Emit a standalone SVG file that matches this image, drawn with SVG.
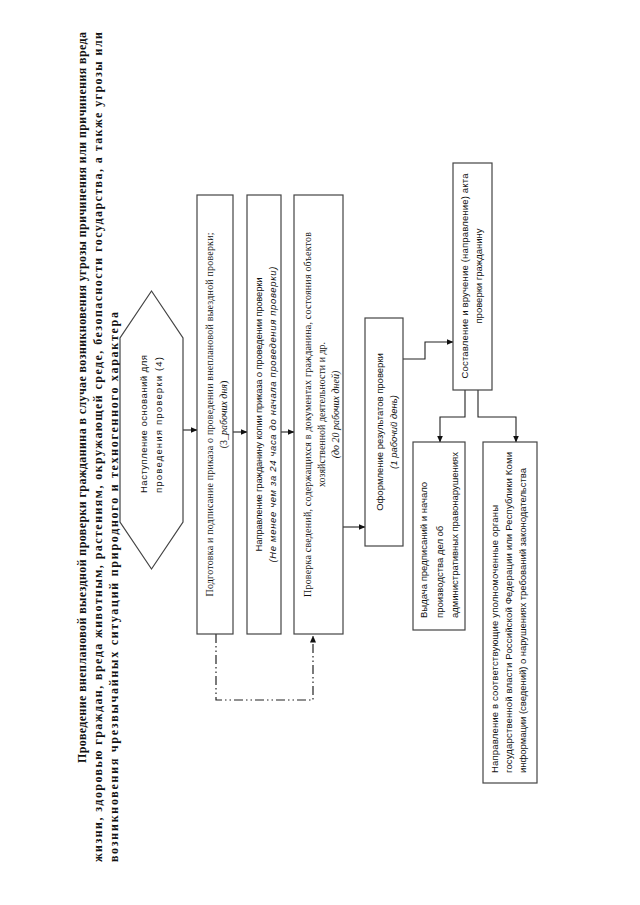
<svg xmlns="http://www.w3.org/2000/svg" width="640" height="905" viewBox="0 0 640 905">
<defs>
<style>
.box{fill:#fff;stroke:#444;stroke-width:1.2}
.ln{fill:none;stroke:#222;stroke-width:1.1}
.dd{fill:none;stroke:#222;stroke-width:1.2;stroke-dasharray:9,3,1.5,3,1.5,3}
.ti{font-family:"Liberation Serif",serif;font-weight:bold;font-size:12px;fill:#111}
.sr{font-family:"Liberation Serif",serif;font-size:10px;fill:#111}
.ss{font-family:"Liberation Sans",Arial,sans-serif;font-size:9.5px;fill:#111}
.it{font-style:italic}
</style>
<marker id="ah" markerWidth="7" markerHeight="6" refX="6.5" refY="3" orient="auto" markerUnits="userSpaceOnUse">
<path d="M0,0 L7,3 L0,6 Z" fill="#111"/>
</marker>
</defs>
<rect width="640" height="905" fill="#fff"/>
<g id="title">
<text class="ti" transform="translate(86,763) rotate(-90)" textLength="731" lengthAdjust="spacing">Проведение внеплановой выездной проверки гражданина в случае возникновения угрозы причинения или причинения вреда</text>
<text class="ti" transform="translate(102,862) rotate(-90)" textLength="830" lengthAdjust="spacing">жизни, здоровью граждан, вреда животным, растениям, окружающей среде, безопасности государства, а также угрозы или</text>
<text class="ti" transform="translate(118,862) rotate(-90)" textLength="550" lengthAdjust="spacing">возникновения чрезвычайных ситуаций природного и техногенного характера</text>
</g>
<g id="connectors">
<path class="ln" d="M183,430 H197" marker-end="url(#ah)"/>
<path class="ln" d="M233,432 H247" marker-end="url(#ah)"/>
<path class="ln" d="M281,432 H294" marker-end="url(#ah)"/>
<path class="ln" d="M343,527 H365" marker-end="url(#ah)"/>
<path class="ln" d="M403,359 H425 V342 H453" marker-end="url(#ah)"/>
<path class="ln" d="M465,390 V417 H440 V442" marker-end="url(#ah)"/>
<path class="ln" d="M478,390 V417 H516 V442" marker-end="url(#ah)"/>
<path class="dd" d="M216,634 V700 H313 V636" marker-end="url(#ah)"/>
</g>
<g id="n0">
<polygon class="box" points="151.5,291 183,338 183,522 151.5,569 120,522 120,338"/>
<text class="ss" font-size="10" transform="translate(147,493) rotate(-90)" textLength="138" lengthAdjust="spacing">Наступление оснований для</text>
<text class="ss" font-size="10" transform="translate(162,493) rotate(-90)" textLength="136" lengthAdjust="spacing">проведения  проверки (4)</text>
</g>
<g id="n1">
<rect class="box" x="197" y="195" width="36" height="439"/>
<text class="sr" text-anchor="middle" transform="translate(213,414.5) rotate(-90)" textLength="364" lengthAdjust="spacing">Подготовка и подписание приказа о проведении внеплановой выездной проверки;</text>
<text class="sr" text-anchor="middle" transform="translate(227,414.5) rotate(-90)">(3_<tspan class="it">рабочих дня</tspan>)</text>
</g>
<g id="n2">
<rect class="box" x="247" y="195" width="34" height="439"/>
<text class="ss" text-anchor="middle" transform="translate(262,414.5) rotate(-90)" textLength="274" lengthAdjust="spacing">Направление гражданину копии приказа о проведении проверки</text>
<text class="ss it" text-anchor="middle" transform="translate(276,414.5) rotate(-90)" textLength="296" lengthAdjust="spacing">(Не менее чем за 24 часа до начала проведения проверки)</text>
</g>
<g id="n3">
<rect class="box" x="294" y="195" width="49" height="439"/>
<text class="sr" text-anchor="middle" transform="translate(311,414.5) rotate(-90)" textLength="365" lengthAdjust="spacing">Проверка сведений, содержащихся в документах гражданина, состояния объектов</text>
<text class="sr" text-anchor="middle" transform="translate(325,414.5) rotate(-90)">хозяйственной деятельности и др.</text>
<text class="sr it" text-anchor="middle" transform="translate(339,414.5) rotate(-90)">(до 20 рабочих дней)</text>
</g>
<g id="n4">
<rect class="box" x="365" y="318" width="38" height="228"/>
<text class="ss" font-size="10" text-anchor="middle" transform="translate(383,432) rotate(-90)">Оформление результатов проверки</text>
<text class="ss it" font-size="10" text-anchor="middle" transform="translate(397,432) rotate(-90)">(1 рабочий день)</text>
</g>
<g id="n5">
<rect class="box" x="453" y="163" width="39" height="227"/>
<text class="ss" text-anchor="middle" transform="translate(468,276) rotate(-90)" textLength="205" lengthAdjust="spacing">Составление и вручение (направление) акта</text>
<text class="ss" text-anchor="middle" transform="translate(482,276) rotate(-90)">проверки гражданину</text>
</g>
<g id="n6">
<rect class="box" x="413" y="442" width="52" height="188"/>
<text class="ss" transform="translate(427,618) rotate(-90)">Выдача предписаний и начало</text>
<text class="ss" transform="translate(443,618) rotate(-90)">производства дел об</text>
<text class="ss" transform="translate(458,618) rotate(-90)" textLength="166" lengthAdjust="spacing">административных правонарушениях</text>
</g>
<g id="n7">
<rect class="box" x="483" y="442" width="54" height="341"/>
<text class="ss" transform="translate(498,773) rotate(-90)" textLength="268" lengthAdjust="spacing">Направление в соответствующие уполномоченные органы</text>
<text class="ss" transform="translate(512,773) rotate(-90)" textLength="321" lengthAdjust="spacing">государственной власти Российской Федерации или Республики Коми</text>
<text class="ss" transform="translate(526,773) rotate(-90)" textLength="305" lengthAdjust="spacing">информации (сведений) о нарушениях требований законодательства</text>
</g>
</svg>
